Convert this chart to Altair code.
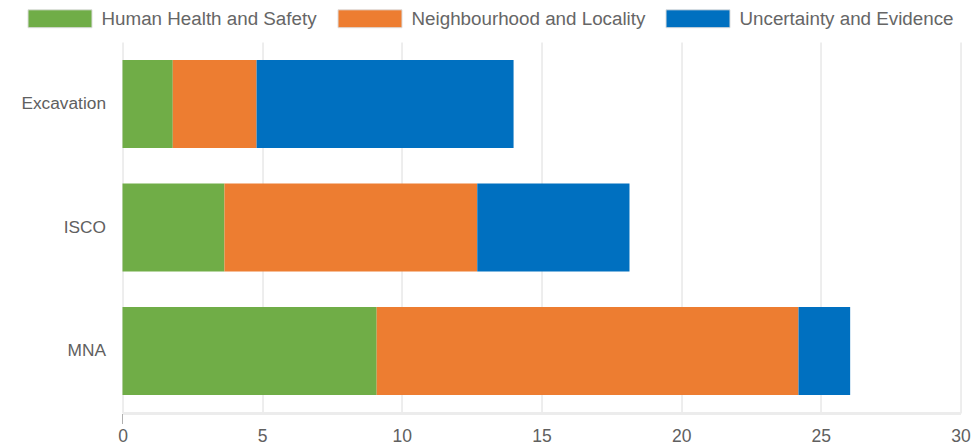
import altair as alt
import pandas as pd

methods = ["Excavation", "ISCO", "MNA"]
categories = ["Human Health and Safety", "Neighbourhood and Locality", "Uncertainty and Evidence"]
human_health = [1.8, 3.65, 9.1]
neighbourhood = [3.0, 9.05, 15.1]
uncertainty = [9.2, 5.45, 1.85]
colors = ["#70AD47", "#ED7D31", "#0070C0"]
x_ticks = [0, 5, 10, 15, 20, 25, 30]

rows = []
for ci, (cat, vals) in enumerate(zip(categories, [human_health, neighbourhood, uncertainty])):
    for m, v in zip(methods, vals):
        rows.append({"method": m, "category": cat, "value": v, "idx": ci})
df = pd.DataFrame(rows)
zero_df = pd.DataFrame({"value": [0]})

FONT = "Liberation Sans"

x_scale = alt.Scale(domain=[0, 30], nice=False)

bars = alt.Chart(df).mark_bar().encode(
    x=alt.X(
        "value:Q",
        stack="zero",
        scale=x_scale,
        axis=alt.Axis(
            values=x_ticks, title=None, grid=True, gridColor="#dcdcdc", gridWidth=1,
            domainColor="#ececec", domainWidth=3, ticks=False, labelFlush=False,
            labelFontSize=17.5, labelColor="#606060", labelFont=FONT, labelPadding=14,
        ),
    ),
    y=alt.Y(
        "method:N",
        sort=methods,
        scale=alt.Scale(paddingInner=0.2875, paddingOuter=0.146),
        axis=alt.Axis(
            title=None, ticks=False, domain=False, grid=False,
            labelFontSize=17.3, labelColor="#606060", labelFont=FONT, labelPadding=17,
        ),
    ),
    color=alt.Color(
        "category:N",
        scale=alt.Scale(domain=categories, range=colors),
        legend=alt.Legend(
            title=None, orient="none", direction="horizontal",
            legendX=-95, legendY=-56, padding=0,
            symbolType="M-1,-0.28L1,-0.28L1,0.28L-1,0.28Z", symbolSize=4096,
            symbolStrokeColor="#dddddd", symbolStrokeWidth=1, symbolOpacity=1,
            labelFont=FONT, labelFontSize=18.8, labelColor="#666666",
            labelOffset=9, columnPadding=18, labelLimit=400,
        ),
    ),
    order=alt.Order("idx:Q"),
)

zero_tick = alt.Chart(zero_df).mark_rule(color="#b0b0b0", strokeWidth=1).encode(
    x=alt.X("value:Q", scale=x_scale),
    y=alt.value(372),
    y2=alt.value(382),
)

chart = alt.layer(bars, zero_tick).properties(
    width=838,
    height=371,
    autosize=alt.AutoSizeParams(type="none"),
    padding={"left": 122.5, "top": 42, "right": 17.5, "bottom": 31},
).configure_view(stroke=None)

chart.save("out.html", embed_options={"renderer": "svg", "actions": False})
